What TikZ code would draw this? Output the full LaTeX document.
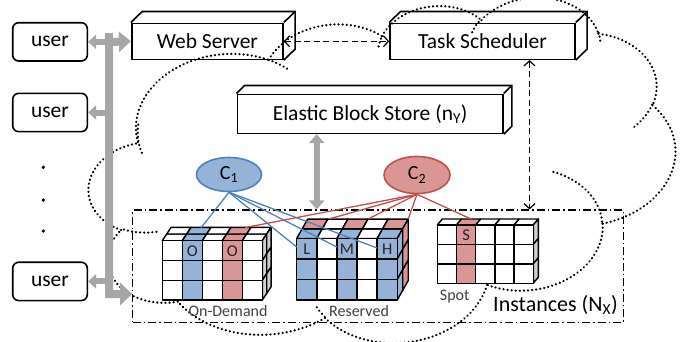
\documentclass[tikz,border=0pt]{standalone}
\usepackage{fontspec}
\setmainfont{Carlito}
\usetikzlibrary{arrows.meta,calc,shapes.geometric}
\definecolor{cblue}{HTML}{95B3D7}
\definecolor{cbluedark}{HTML}{4F81BD}
\definecolor{cred}{HTML}{D99694}
\definecolor{creddark}{HTML}{C0504D}
\definecolor{cgray}{HTML}{D0D0D0}
\definecolor{busgray}{HTML}{A6A6A6}
\definecolor{lblgray}{HTML}{404040}

% ---------- cloud (PowerPoint cloud geometry, mapped by an affine fit) ----------
\newcommand\cpx{0}\newcommand\cpy{0}
\newcommand\cloudmove[2]{\xdef\cpx{#1}\xdef\cpy{#2}}
\newcommand\cloudarc[4]{%
  \pgfmathsetmacro\cta{atan2((#1)*sin(#3),(#2)*cos(#3))}%
  \pgfmathsetmacro\ctb{atan2((#1)*sin(#3+#4),(#2)*cos(#3+#4))}%
  \pgfmathsetmacro\ctb{ifthenelse(\ctb<\cta,\ctb+360,\ctb)}%
  \pgfmathsetmacro\ccx{\cpx-(#1)*cos(\cta)}%
  \pgfmathsetmacro\ccy{\cpy-(#2)*sin(\cta)}%
  \draw[cloudline] plot[domain=\cta:\ctb,samples=60,variable=\t]
   ({389.7+1.3556*(\ccx+(#1)*cos(\t)-222.76)+0.0671*(\ccy+(#2)*sin(\t)-185.34)},
    {152.22-0.1193*(\ccx+(#1)*cos(\t)-222.76)+0.7664*(\ccy+(#2)*sin(\t)-185.34)});
  \pgfmathsetmacro\cnx{\ccx+(#1)*cos(\ctb)}%
  \pgfmathsetmacro\cny{\ccy+(#2)*sin(\ctb)}%
  \xdef\cpx{\cnx}\xdef\cpy{\cny}%
}

% ---------- cube helpers ----------
\newcommand\setcube[6]{\def\qX{#1}\def\qY{#2}\def\qw{#3}\def\qh{#4}\def\qdx{#5}\def\qdy{#6}}
\newcommand\topcell[3]{\filldraw[cellline,fill=#3]
  ({\qX+#1*\qw+(#2-1)*\qdx},{\qY+(#2-1)*\qdy}) -- ++(\qw,0) -- ++(\qdx,\qdy)
  -- ({\qX+#1*\qw+#2*\qdx},{\qY+#2*\qdy}) -- cycle;}
\newcommand\sidecell[3]{\filldraw[cellline,fill=#3]
  ({\qX+5*\qw+(#2-1)*\qdx},{\qY+#1*\qh+(#2-1)*\qdy}) -- ++(\qdx,\qdy) -- ++(0,\qh)
  -- ({\qX+5*\qw+(#2-1)*\qdx},{\qY+(#1+1)*\qh+(#2-1)*\qdy}) -- cycle;}
\newcommand\frontcell[3]{\filldraw[cellline,fill=#3]
  ({\qX+#1*\qw},{\qY+#2*\qh}) rectangle ++(\qw,\qh);}
\newcommand\extrude[3]{%
  \draw[boxline] (#1.north west) -- ++(#2,#3) -- ($(#1.north east)+(#2,#3)$)
     -- ($(#1.south east)+(#2,#3)$) -- (#1.south east);
  \draw[boxline] (#1.north east) -- ++(#2,#3);}

\tikzset{
  boxline/.style={draw,line width=1.6pt,line join=miter},
  frontbox/.style={boxline,inner sep=0pt,font=\fontsize{21.5}{24}\selectfont},
  userbox/.style={draw,line width=1.6pt,rounded corners=6pt,minimum width=74.6pt,
     minimum height=38.3pt,inner sep=0pt,font=\fontsize{21.5}{24}\selectfont},
  dotn/.style={circle,fill=black,inner sep=0pt,minimum size=3.6pt},
  bus/.style={busgray,line width=8pt,line join=miter},
  busthin/.style={busgray,line width=6pt},
  dconn/.style={black,line width=1.2pt,dash pattern=on 6pt off 3.5pt,
     {Straight Barb[length=5pt,width=11pt]}-{Straight Barb[length=5pt,width=11pt]}},
  cloudline/.style={black,line width=2.4pt,dash pattern=on 0.1pt off 4pt,line cap=round},
  cellline/.style={black,line width=1.4pt,line join=round},
  instbox/.style={draw,line width=1.2pt,dash pattern=on 8pt off 3pt on 1.5pt off 3pt,inner sep=0pt},
  bluel/.style={cbluedark,line width=1.3pt},
  redl/.style={creddark,line width=1.3pt},
  cellletter/.style={inner sep=0pt,text=black!85,font=\fontsize{16.5}{18}\selectfont},
  cubelbl/.style={inner sep=0pt,text=lblgray,font=\fontsize{16}{18}\selectfont,anchor=base},
  cnode/.style={ellipse,line width=1.6pt,inner sep=0pt,font=\fontsize{20}{22}\selectfont},
}

\begin{document}
\begin{tikzpicture}[x=1pt,y=-1pt]
\useasboundingbox (0,0) rectangle (691,341);

% ---- cloud ----
\begin{scope}
\clip (0,0) rectangle (691,341);
\cloudmove{39.00}{143.70}
\cloudarc{67.53}{91.90}{-190.4875}{123.7805}
\cloudarc{53.33}{72.67}{-144.1024}{89.9452}
\cloudarc{43.65}{59.45}{-145.8079}{99.7230}
\cloudarc{48.57}{65.95}{-130.9861}{117.2417}
\cloudarc{53.33}{72.73}{-78.7089}{109.0269}
\cloudarc{67.75}{92.20}{-46.2673}{130.2690}
\cloudarc{57.85}{78.67}{0.6250}{114.0333}
\cloudarc{67.52}{92.15}{22.4516}{115.1726}
\cloudarc{77.20}{105.43}{66.2426}{75.7110}
\cloudarc{43.60}{59.18}{-274.9421}{146.7356}
\cloudarc{43.45}{59.45}{-246.8285}{152.5302}
\cloudmove{46.93}{261.77}\cloudarc{43.45}{59.45}{86.7420}{26.4295}
\cloudmove{69.28}{348.99}\cloudarc{43.60}{59.18}{73.6105}{11.4475}
\cloudmove{164.78}{390.90}\cloudarc{67.52}{92.15}{137.6242}{14.0811}
\cloudmove{288.27}{347.51}\cloudarc{67.52}{92.15}{6.4533}{15.9984}
\cloudmove{341.29}{229.54}\cloudarc{57.85}{78.67}{-70.2924}{70.9174}
\cloudmove{417.98}{153.54}\cloudarc{53.33}{72.73}{30.3180}{27.7515}
\cloudmove{383.24}{54.26}\cloudarc{48.57}{65.95}{-13.7443}{14.8589}
\cloudmove{290.78}{39.52}\cloudarc{48.57}{65.95}{-149.1815}{18.1954}
\cloudmove{221.41}{47.20}\cloudarc{43.65}{59.45}{-163.4943}{17.6864}
\cloudmove{140.00}{51.92}\cloudarc{67.53}{91.90}{-66.7070}{12.3194}
\cloudmove{41.27}{157.89}\cloudarc{67.53}{91.90}{162.0450}{31.4651}
\end{scope}

% ---- instances frame ----
\node[instbox,minimum width=490.6pt,minimum height=112.7pt] (inst) at (378,266.35) {};
\node[inner sep=0pt,anchor=base,font=\fontsize{22}{24}\selectfont] (instlbl) at (555.5,311.7) {Instances (N\textsubscript{X})};

% ---- 3D boxes ----
\node[frontbox,minimum width=151.3pt,minimum height=36pt] (ws) at (207.35,41.3) {Web Server};
\extrude{ws}{11.3}{-11}
\node[frontbox,minimum width=185pt,minimum height=36pt] (ts) at (482.5,41.3) {Task Scheduler};
\extrude{ts}{11.3}{-11}
\node[frontbox,minimum width=265.7pt,minimum height=39pt] (ebs) at (370.15,113.8) {Elastic Block Store (n\textsubscript{Y})};
\extrude{ebs}{8}{-8}

% ---- users ----
\node[userbox] (u1) at (50,41.85) {user};
\node[userbox] (u2) at (50,112.5) {user};
\node[userbox] (u3) at (50,281.4) {user};
\node[dotn] (d1) at (43.3,167.3) {};
\node[dotn] (d2) at (43.3,200) {};
\node[dotn] (d3) at (43.3,231) {};

% ---- bus ----
\coordinate (bt) at (109,42);
\coordinate (bb) at (109,294);
\draw[busgray,line width=8pt] (109,33) -- (bt);
\draw[bus,{Triangle[length=12pt,width=20pt]}-{Triangle[length=12pt,width=22pt]}]
  (ws.west) -- (bt) -- (bb) -- (bb -| inst.west);
\draw[busthin,-{Triangle[length=8pt,width=14pt]}] (u1.east -| bt) -- (u1.east);
\draw[busthin,-{Triangle[length=8pt,width=14pt]}] (u2.east -| bt) -- (u2.east);
\draw[busthin,-{Triangle[length=8pt,width=14pt]}] (u3.east -| bt) -- (u3.east);

% ---- dashed links ----
\draw[dconn] (ws.east) -- (ts.west);
\coordinate (dv) at (529.5,0);
\draw[dconn] (ts.south -| dv) -- (inst.north -| dv);
\coordinate (gv) at (316.7,0);
\draw[busgray,line width=6pt,{Triangle[length=9pt,width=15pt]}-{Triangle[length=9pt,width=15pt]}]
  (ebs.south -| gv) -- (inst.north -| gv);

% ---- On-Demand cube ----
\setcube{162.3}{240.7}{20}{19.8}{4.4}{-6.7}
\foreach \ci/\cl in {0/white,1/cblue,2/white,3/cred,4/white}{\topcell{\ci}{1}{\cl}\topcell{\ci}{2}{\cl}}
\foreach \ri in {0,1,2}{\sidecell{\ri}{1}{cgray}\sidecell{\ri}{2}{cgray}}
\foreach \ci/\cl in {0/white,1/cblue,2/white,3/cred,4/white}{\foreach \ri in {0,1,2}{\frontcell{\ci}{\ri}{\cl}}}

% ---- Reserved cube ----
\setcube{296.7}{238.5}{20.1}{20.5}{5.5}{-9.7}
\foreach \ci/\cl in {0/cblue,1/white,2/cblue,3/white,4/cblue}{\topcell{\ci}{1}{\cl}}
\foreach \ci/\cl in {0/cred,1/white,2/cred,3/white,4/cred}{\topcell{\ci}{2}{\cl}}
\foreach \ri in {0,1,2}{\sidecell{\ri}{1}{cblue}\sidecell{\ri}{2}{cred}}
\foreach \ci/\cl in {0/cblue,1/white,2/cblue,3/white,4/cblue}{\foreach \ri in {0,1,2}{\frontcell{\ci}{\ri}{\cl}}}

% ---- Spot cube ----
\setcube{437.3}{225}{19.2}{19.4}{5}{-6}
\foreach \ci/\cl in {0/white,1/cred,2/white,3/white,4/white}{\topcell{\ci}{1}{\cl}}
\foreach \ri in {0,1,2}{\sidecell{\ri}{1}{cgray}}
\foreach \ci/\cl in {0/white,1/cred,2/white,3/white,4/white}{\foreach \ri in {0,1,2}{\frontcell{\ci}{\ri}{\cl}}}

% ---- cell letters ----
\node[cellletter] (lo1) at (192.3,251.5) {O};
\node[cellletter] (lo2) at (232.3,251.5) {O};
\node[cellletter] (ll) at (306.75,249.5) {L};
\node[cellletter] (lm) at (346.95,249.5) {M};
\node[cellletter] (lh) at (387.15,249.5) {H};
\node[cellletter] (ls) at (466.1,235.2) {S};

% ---- cube labels ----
\node[cubelbl] (lod) at (228,316) {On-Demand};
\node[cubelbl] (lres) at (359,316.5) {Reserved};
\node[cubelbl] (lspot) at (454.7,300) {Spot};

% ---- connector targets ----
\coordinate (odb) at (201.1,227.6);
\coordinate (odr) at (245,227.6);
\coordinate (tl) at (296.7,247);
\coordinate (tm) at (336.9,247);
\coordinate (th) at (377.1,248);
\coordinate (rr1) at (329.5,218.8);
\coordinate (rr3) at (368.5,218.8);
\coordinate (rr5) at (408.3,218.8);
\coordinate (rs) at (471.5,219.2);

% ---- C nodes ----
\node[cnode,draw=cbluedark,fill=cblue,minimum width=65pt,minimum height=34pt] (c1) at (229,174.5) {C\textsubscript{1}};
\node[cnode,draw=creddark,fill=cred,minimum width=66pt,minimum height=37pt] (c2) at (417,175) {C\textsubscript{2}};

\draw[bluel] (c1.south) -- (odb);
\draw[bluel] (c1.south) -- (tl);
\draw[bluel] (c1.south) -- (tm);
\draw[bluel] (c1.south) -- (th);
\draw[redl] (c2.south) -- (odr);
\draw[redl] (c2.south) -- (rr1);
\draw[redl] (c2.south) -- (rr3);
\draw[redl] (c2.south) -- (rr5);
\draw[redl] (c2.south) -- (rs);
\end{tikzpicture}
\end{document}
